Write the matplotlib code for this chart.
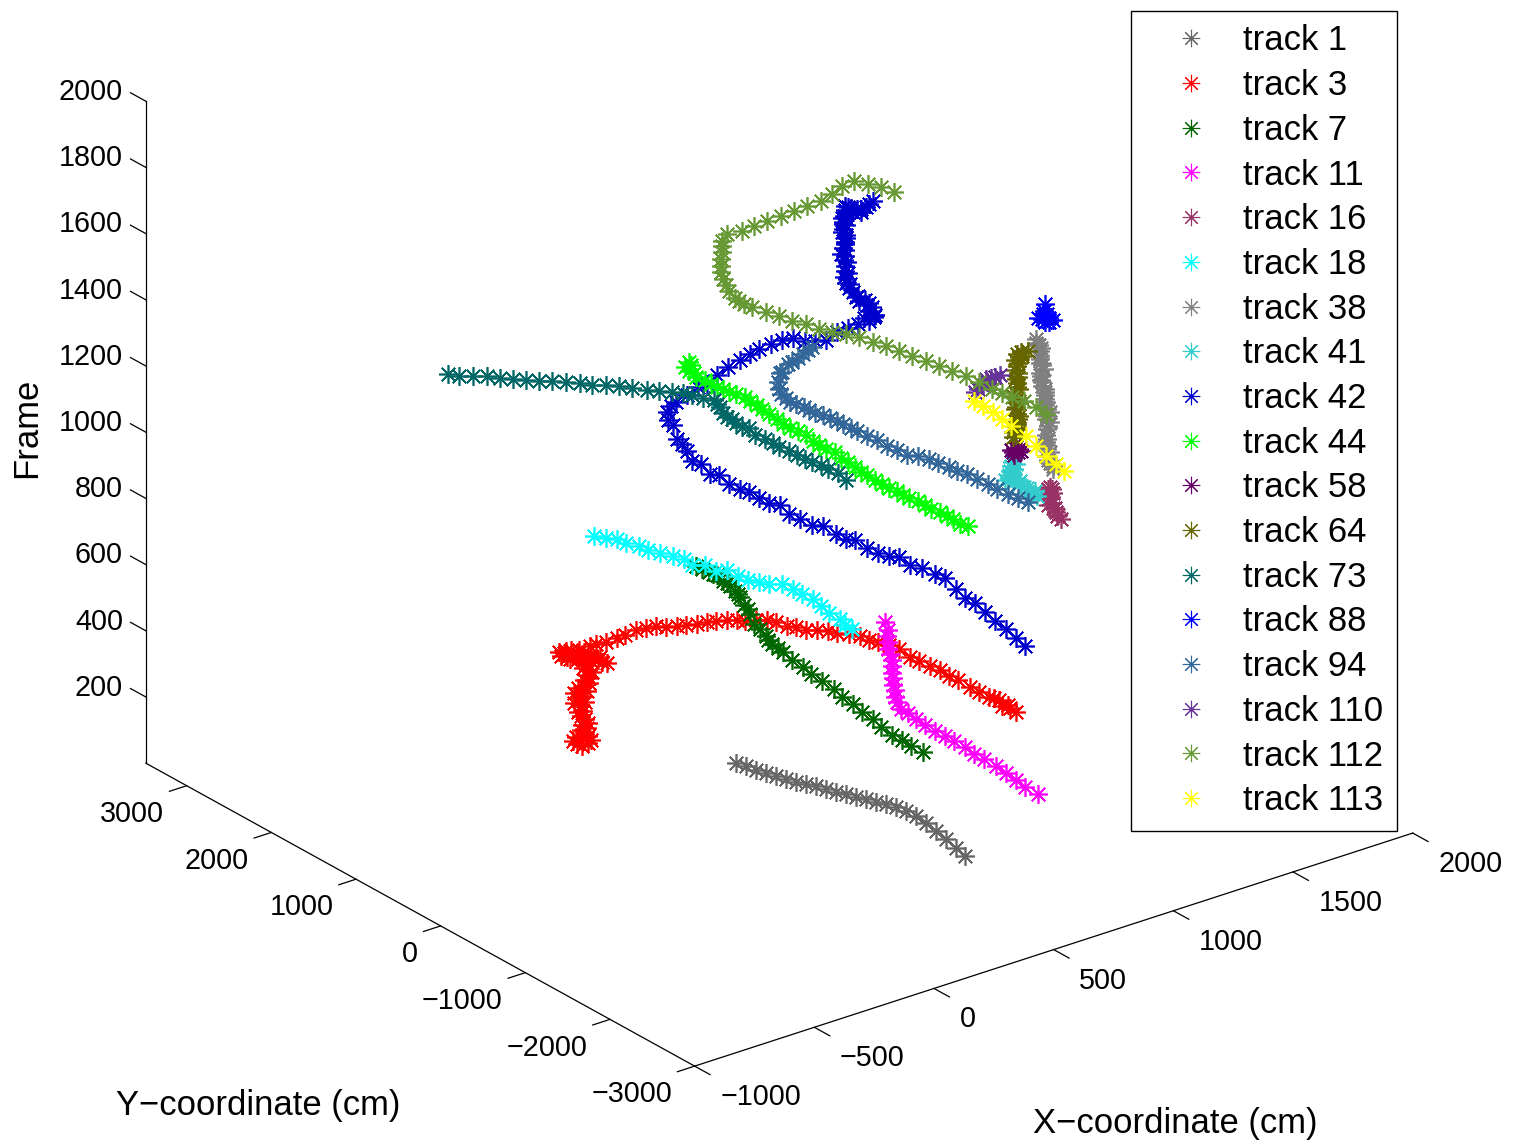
import numpy as np
import matplotlib
matplotlib.use('Agg')
import matplotlib.pyplot as plt

plt.rcParams['font.family'] = ['Liberation Sans', 'DejaVu Sans']

# x, y in cm and frame number
x1 = [538,544,544,549,555,560,566,576,586,592,597,607,613,623,628,639,644,644,640,625,605,585,560,538]
y1 = [856,753,636,533,430,327,225,136,47,-56,-159,-248,-351,-440,-542,-631,-734,-851,-982,-1142,-1317,-1491,-1680,-1849]
f1 = [10,14,18,23,27,31,35,39,43,47,51,56,60,64,68,72,76,80,85,90,95,100,105,110]
x3 = [200,180,210,150,170,130,150,120,130,130,140,140,150,160,150,160,160,180,160,180,160,180,160,190,180,190,200,200,210,220,230,230,210,230,240,250,230,
      230,220,200,190,180,190,170,190,210,220,240,240,250,260,240,240,220,200,180,
      270,280,300,330,350,390,410,430,450,470,480,500,520,530,550,560,560,580,590,590,600,600,600,610,620,620,630,630,620,620,620,610,600,590,580,570,550,540,540,520,510,500,490,470,470,450,430]
y3 = [1720,1720,1680,1690,1530,1600,1510,1500,1490,1540,1490,1550,1510,1580,1590,1660,1600,1680,1700,1630,1670,1680,1700,1640,1710,1670,1640,1700,1670,1720,1690,1740,1740,1760,1800,1760,1810,
      1850,1880,1930,1970,1910,1870,1780,1740,1740,1680,1650,1600,1570,1680,1730,1810,1820,1850,1860,
      1830,1780,1720,1680,1640,1620,1560,1500,1440,1360,1290,1210,1150,1070,1000,910,810,740,640,530,430,330,210,110,10,-100,-220,-340,-480,-590,-720,-860,-1020,-1160,-1310,-1460,-1620,-1760,-1900,-2060,-2210,-2300,-2380,-2480,-2540,-2630,-2750]
f3 = [20,30,30,50,70,80,90,100,110,110,120,120,130,130,140,140,150,150,160,170,180,180,190,200,200,210,220,220,230,230,240,240,250,250,260,260,270,
      270,270,270,270,270,270,280,280,280,280,280,280,280,280,280,280,290,290,290,
      290,300,310,320,330,340,350,360,360,370,380,390,400,410,420,430,440,450,460,470,470,480,490,500,510,520,530,540,550,560,570,580,580,590,600,610,620,630,630,640,650,660,670,670,680,690,700]
x7 = [940,920,910,910,900,900,890,890,880,880,870,860,870,860,860,850,850,860,860,860,870,890,910,900,930,940,930,940,930,930,940,920,920,900,900]
y7 = [-210,-130,-50,70,170,270,370,470,570,670,780,880,1010,1110,1210,1250,1320,1390,1420,1490,1590,1690,1770,1790,1920,1970,1980,2070,2080,2120,2220,2210,2260,2280,2350]
f7 = [100,110,120,120,130,140,150,160,170,180,190,200,200,210,220,230,230,230,240,250,250,260,260,270,270,270,280,280,290,290,290,300,300,310,310]
x11 = [1120,1120,1130,1120,1130,1130,1130,1120,1120,1120,1120,1120,1110,1120,1120,1140,1130,1130,1120,1120,1110,1110,1110,1100,1090,1090,1100,1100,1080]
y11 = [-1060,-910,-770,-680,-540,-400,-280,-200,-70,40,160,270,350,470,560,660,660,660,650,650,640,630,630,630,620,620,660,650,630]
f11 = [50,50,50,60,60,60,60,70,70,70,70,70,80,80,80,80,100,120,140,160,180,200,220,240,260,280,290,310,340]
x16 = [1070,1070,1060,1060,1060,1040,1030,1050,1040,1040,1050,1050,1050,1040,1040]
y16 = [-1470,-1440,-1460,-1440,-1430,-1460,-1440,-1430,-1410,-1440,-1390,-1440,-1420,-1410,-1430]
f16 = [950,960,960,970,980,990,1000,1000,1010,1020,1020,1030,1040,1040,1050]
x18 = [630,640,660,650,670,660,660,680,680,670,690,690,710,710,700,720,720,740,730,710,720,690,680,660,630,630]
y18 = [2800,2680,2610,2470,2380,2240,2100,2010,1880,1750,1660,1530,1450,1320,1180,1100,980,890,730,570,460,290,160,-20,-170,-250]
f18 = [400,410,410,420,420,430,440,440,450,450,460,460,470,470,480,480,490,500,510,520,520,530,530,540,550,550]
x38 = [1210,1210,1200,1180,1190,1190,1180,1180,1180,1180,1180,1180,1180,1190,1180,1180,1190,1180,1180,1180,1180,1180,1180,1180,1170,1170,1180,1180,1180,1190,1190,1180,1180,1180,1190,1190,1180,1170,1170]
y38 = [-980,-980,-980,-1010,-960,-1010,-1000,-990,-990,-1000,-990,-1000,-1010,-1000,-990,-1000,-1000,-1000,-980,-990,-980,-980,-980,-980,-970,-970,-930,-930,-920,-930,-910,-920,-920,-920,-890,-900,-900,-900,-900]
f38 = [1000,1010,1020,1040,1040,1060,1070,1080,1090,1100,1110,1130,1140,1150,1160,1170,1180,1190,1200,1210,1220,1230,1240,1250,1260,1270,1270,1280,1290,1300,1310,1320,1330,1340,1350,1360,1370,1380,1390]
x41 = [1040,1040,1060,1040,1050,1050,1050,1050,1030,1050,1020,1040,1050,1050,1040,1060,1050,1060,1040]
y41 = [-1280,-1230,-1200,-1180,-1130,-1100,-1040,-1050,-1020,-980,-960,-950,-920,-970,-960,-950,-940,-970,-980]
f41 = [1000,1000,1000,1000,1000,1000,1000,1010,1010,1010,1010,1010,1010,1020,1030,1030,1040,1050,1060]
x42 = [640,640,640,650,650,650,650,650,660,650,630,600,590,570,540,520,510,490,470,460,440,420,400,400,380,360,350,340,320,320,300,310,300,320,340,350,390,400,420,460,490,540,590,630,680,730,780,820,850,
       890,940,960,980,990,1010,1060,1090,1120,1150,1150,1180,1180,1150,1190,1150,1170,1160,1140,1130,1090,1100,1070,1080,1080,1070,1070,1070,1070,1070,1080,1090,1090,1080,1080,1100,1080,1100,1090,
       1120,1090,1090,1110,1120,1100,1110,1120,1110,1110,1140,1120,1130,1130,1120,1130,1090,1110,1080,1100,1120,1130]
y42 = [-2270,-2160,-2040,-1880,-1760,-1650,-1530,-1420,-1260,-1170,-1080,-1020,-920,-860,-810,-740,-630,-580,-510,-390,-320,-230,-160,-50,20,90,170,250,330,440,500,630,710,820,940,1030,1180,1270,1340,1410,1430,1440,1460,1460,1480,1500,1500,1490,1470,1440,1450,1380,1290,1210,1130,1140,1100,1070,1080,1020,1030,1030,960,
       1100,1020,1080,1100,1020,1090,970,1070,950,1060,1090,1020,1090,1050,1080,1040,1100,1140,1110,1150,1110,1180,1100,1160,1130,1210,1120,1170,1210,1210,1180,1210,1210,1230,1200,1270,1190,1250,1210,1150,1110,1040,1000,920,910,940,920]
f42 = [780,790,800,800,810,820,820,830,840,840,850,860,870,870,880,890,900,900,910,920,920,930,940,950,950,960,970,970,980,990,990,1000,1000,1010,1010,1010,1020,1020,1030,1030,1030,1040,1050,1050,1060,
       1070,1080,1090,1100,1110,1110,1120,1120,1130,1140,1150,1160,1170,1180,1180,1190,1190,1200,
       1200,1210,1220,1230,1230,1250,1260,1270,1280,1290,1300,1310,1320,1320,1340,1340,1350,1360,1360,1380,1380,1390,1400,1410,1410,1420,1430,1440,1440,1450,1460,1460,1470,1470,1480,1480,1490,1500,1500,1510,1510,1520,1530,1540,1550,1550,1560]
x44 = [670,620,630,580,580,550,560,560,560,550,550,560,570,550,550,540,540,520,510,510,500,500,490,490,470,480,470,470,450,440,440,420,420,420,430,410,410,420,420,400,410,410,410,390,400]
y44 = [1790,1690,1650,1530,1480,1370,1290,1220,1150,1050,980,920,850,730,640,560,470,320,220,140,20,-70,-180,-260,-390,-470,-570,-660,-800,-890,-970,-1110,-1200,-1280,-1350,-1480,-1550,-1620,-1710,-1830,-1910,-2000,-2070,-2200,-2270]
f44 = [1060,1070,1080,1090,1090,1100,1100,1100,1100,1110,1110,1110,1110,1120,1120,1120,1120,1130,1130,1130,1140,1140,1140,1140,1150,1150,1150,1150,1160,1160,1160,1170,1170,1170,1170,1180,1180,1180,1180,1190,1190,1190,1190,1200,1200]
x58 = [1130,1150,1150,1100,1120,1110,1140]
y58 = [-720,-710,-780,-840,-830,-800,-780]
f58 = [1040,1040,1040,1050,1050,1050,1050]
x64 = [1180,1180,1170,1180,1190,1190,1180,1200,1200,1190,1190,1190,1200,1200,1200,1210,1220,1210,1210,1210,1230,1230,1220,1230,1230,1220,1230,1240,1210,1210,1220]
y64 = [-600,-630,-620,-640,-620,-620,-630,-600,-610,-610,-590,-600,-610,-590,-540,-540,-560,-560,-560,-550,-520,-510,-510,-500,-520,-510,-530,-480,-620,-610,-660]
f64 = [1050,1060,1070,1080,1080,1090,1100,1100,1110,1120,1130,1140,1150,1160,1160,1170,1180,1190,1200,1210,1210,1220,1230,1240,1250,1260,1270,1270,1290,1300,1310]
x73 = [70,90,110,150,160,190,200,230,250,280,300,320,340,370,380,410,420,450,460,470,470,490,480,470,450,430,430,420,420,420,400,410,410,390,400,400,400,390,400,400,390,380]
y73 = [2940,2870,2760,2700,2580,2510,2390,2320,2220,2140,2030,1950,1830,1770,1640,1550,1440,1370,1260,1190,1060,990,920,860,770,660,600,530,450,370,240,150,60,-70,-160,-250,-340,-460,-540,-620,-760,-890]
f73 = [1000,1000,1010,1010,1020,1020,1030,1030,1040,1040,1050,1050,1060,1060,1070,1070,1080,1080,1090,1090,1100,1100,
       1100,1100,1100,1110,1110,1110,1110,1120,1120,1120,1120,1130,1130,1130,1130,1140,1140,1140,1150,1150]
x88 = [1100,1090,1090,1080,1100,1100,1080,1090,1080,1070,1090,1110]
y88 = [-1200,-1150,-1190,-1310,-1290,-1250,-1260,-1210,-1280,-1280,-1220,-1170]
f88 = [1500,1510,1510,1520,1520,1520,1530,1530,1540,1540,1540,1550]
x94 = [750,730,720,700,700,680,660,650,630,620,600,570,550,530,520,510,500,480,480,460,460,440,440,410,410,410,390,380,390,380,400,430,460,470,510,530,550,580,600,620]
y94 = [-1990,-1930,-1840,-1770,-1660,-1590,-1520,-1430,-1390,-1290,-1240,-1200,-1130,-1070,-970,-890,-800,-730,-660,-620,-550,-530,-450,-440,-370,-300,-270,-220,-150,-120,-40,60,120,130,170,170,160,190,180,200]
f94 = [1150,1160,1160,1170,1170,1180,1190,1190,1200,1200,1210,1220,1220,1230,1230,1240,1240,1250,1250,1260,1260,1270,1270,1280,1280,1280,1290,1290,1290,1300,1300,1300,1310,1310,1320,1320,1330,1330,1340,1340]
x110 = [900,920,950,980,990,1010,960,1010,1030]
y110 = [-940,-920,-880,-850,-810,-820,-930,-870,-870]
f110 = [1300,1300,1300,1300,1300,1300,1310,1310,1310]
x112 = [1061,1063,1055,1038,1026,1015,1009,998,979,963,948,929,913,898,875,859,834,801,776,761,733,717,697,678,668,667,671,648,639,630,627,629,631,636,639,640,687,722,764,806,850,892,934,978,1025,1075,1116,1136,1118,1089]
y112 = [-1328,-1203,-1084,-992,-905,-819,-684,-562,-449,-340,-230,-118,-8,101,200,310,393,466,549,658,744,853,950,1062,1129,1185,1243,1249,1259,1270,1283,1289,1296,1298,1305,1310,1382,1315,1281,1247,1205,1171,1136,1095,1099,1122,1095,997,782,548]
f112 = [1250,1253,1256,1259,1262,1265,1268,1272,1275,1279,1282,1286,1289,1292,1296,1299,1303,1306,1309,1313,1316,1320,1323,1327,1329,1330,1330,1356,1374,1393,1413,1430,1450,1469,1486,1500,1500,1510,1520,1530,1541,1551,1561,1572,1581,1591,1600,1600,1625,1650]
x113 = [1231,1225,1216,1214,1212,1191,1182,1169,1152,1139]
y113 = [-1060,-981,-889,-776,-664,-547,-467,-386,-316,-257]
f113 = [1000,1011,1025,1039,1054,1073,1085,1098,1110,1120]

track_ids = [1, 3, 7, 11, 16, 18, 38, 41, 42, 44, 58, 64, 73, 88, 94, 110, 112, 113]
track_x = [x1, x3, x7, x11, x16, x18, x38, x41, x42, x44, x58, x64, x73, x88, x94, x110, x112, x113]
track_y = [y1, y3, y7, y11, y16, y18, y38, y41, y42, y44, y58, y64, y73, y88, y94, y110, y112, y113]
track_f = [f1, f3, f7, f11, f16, f18, f38, f41, f42, f44, f58, f64, f73, f88, f94, f110, f112, f113]
track_colors = ['#666666', '#ff0000', '#006600', '#ff00ff', '#993366', '#00ffff', '#808080', '#33cccc', '#0000cc',
                '#00ff00', '#660066', '#666600', '#006666', '#0000ff', '#336699', '#663399', '#669933', '#ffff00']
x_ticks = [-1000, -500, 0, 500, 1000, 1500, 2000]
y_ticks = [-3000, -2000, -1000, 0, 1000, 2000, 3000]
z_ticks = [200, 400, 600, 800, 1000, 1200, 1400, 1600, 1800, 2000]

fig = plt.figure(figsize=(15.2, 11.43), dpi=100)
ax = fig.add_axes([0.030, -0.0506, 0.940, 1.250], projection='3d', proj_type='ortho')
ax.computed_zorder = False
ax.patch.set_visible(False)
ax.view_init(elev=25.04, azim=-127.48)
ax.set_box_aspect((905, 902, 730.7))

for tid, xs, ys, fs, col in zip(track_ids, track_x, track_y, track_f, track_colors):
    ax.plot(xs, ys, fs, ls='none', marker=(8, 2, 0), ms=13.5, mew=1.2, color=col, label='track %d' % tid)

ax.set_xlim(-1000, 2000)
ax.set_ylim(-3000, 3482)
ax.set_zlim(0, 2000)
ax.set_xticks(x_ticks)
ax.set_yticks(y_ticks)
ax.set_zticks(z_ticks)
ax.grid(False)
ax.zaxis.set_ticks_position('upper')
ax.zaxis._get_tickdir = lambda pos: 1  # frame ticks run along y

for axis, t_in, t_out, pad, ha, va in ((ax.xaxis, 0.35, 0, 17, 'left', 'bottom'),
                                       (ax.yaxis, 0.30, 0, 8.9, 'right', 'center'),
                                       (ax.zaxis, 0, 0.35, 1.7, 'right', 'baseline')):
    axis.pane.set_visible(False)
    axis.line.set_color('k')
    axis.line.set_linewidth(0.9)
    axis._axinfo['tick']['inward_factor'] = t_in
    axis._axinfo['tick']['outward_factor'] = t_out
    axis._axinfo['tick']['linewidth'] = {True: 0.9, False: 0.9}
    axis._axinfo['tick']['color'] = 'k'
    axis.set_tick_params(labelsize=20.7, pad=pad)
    for lab in axis.get_ticklabels():
        lab.set_ha(ha)
        lab.set_va(va)

fig.text(27 / 1520, 1 - 428 / 1143, 'Frame', rotation=90, fontsize=24.9, ha='center', va='center')
fig.text(258 / 1520, 1 - 1105 / 1143, 'Y\u2212coordinate (cm)', fontsize=24.9, ha='center', va='center')
fig.text(1175 / 1520, 1 - 1123 / 1143, 'X\u2212coordinate (cm)', fontsize=24.9, ha='center', va='center')

leg = ax.legend(loc='upper left', bbox_to_anchor=(1131 / 1520, 1 - 11 / 1143), bbox_transform=fig.transFigure, borderaxespad=0,
                fontsize=24.9, fancybox=False, framealpha=1, edgecolor='k', numpoints=1,
                borderpad=0.39, handlelength=2.69, handletextpad=0.16, labelspacing=0.338)
leg.get_frame().set_linewidth(1.0)
for h in leg.legend_handles:
    h.set_markersize(12.5)
    h.set_markeredgewidth(0.8)

fig.savefig('out.png', dpi=100)
